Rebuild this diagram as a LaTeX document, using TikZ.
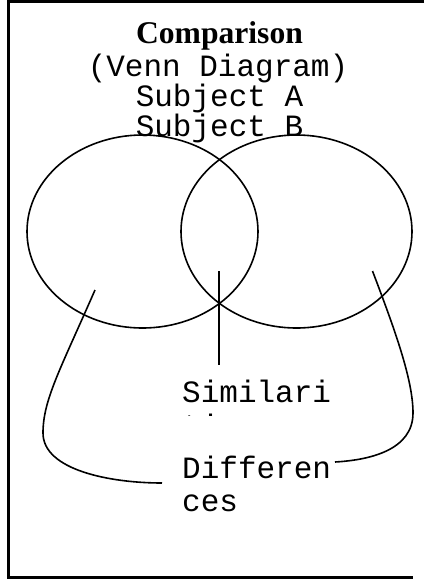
\documentclass[tikz,border=0pt]{standalone}
\usepackage{fontspec}
\setmainfont{Liberation Serif}
\newfontfamily\monofont{Liberation Mono}
\begin{document}
\begin{tikzpicture}[x=1pt,y=-1pt,
  mono/.style={font=\monofont\fontsize{31}{33}\selectfont, inner sep=0pt},
  titlefont/.style={font=\bfseries\fontsize{31.6}{34}\selectfont, inner sep=0pt},
  link/.style={line width=1.6pt},
  venn/.style={line width=1.6pt}]
\useasboundingbox (0,0) rectangle (424,579);
% frame
\draw[line width=3pt] (424,1.5) -- (8,1.5) -- (8,577) -- (413,577);
% titles
\node[titlefont, anchor=base] (title) at (219.5,43) {Comparison};
\node[mono, anchor=base] (sub) at (218,76) {(Venn Diagram)};
\node[mono, anchor=base] (subA) at (219.5,106.5) {Subject A};
\node[mono, anchor=base] (subB) at (219.5,136) {Subject B};
% ellipses
\draw[venn] (142.5,231.5) ellipse [x radius=115.5, y radius=96.5];
\draw[venn] (296.5,231.5) ellipse [x radius=115.5, y radius=96.5];
% labels
\node[mono, anchor=base west] (sim) at (182,402) {Similari};
\begin{scope}
\clip (150,380) rectangle (350,415.5);
\node[mono, anchor=base west] (sim2) at (182,436.5) {ties};
\end{scope}
\node[mono, anchor=base west] (diff) at (182,478) {Differen};
\node[mono, anchor=base west] (diff2) at (182,511) {ces};
% connector endpoints
\coordinate (midA) at (219,271);
\coordinate (midB) at (219,365);
\coordinate (leftA) at (95,290);
\coordinate (leftM) at (43,433);
\coordinate (leftB) at (162,483);
\coordinate (rightA) at (372.5,271);
\coordinate (rightM) at (413,413);
\coordinate (rightB) at (335,462);
% connectors
\draw[link] (midA) -- (midB);
\draw[link] (leftA) .. controls (60,370) and (43,400) .. (leftM)
  .. controls (43,470) and (110,483) .. (leftB);
\draw[link] (rightA) .. controls (395,330) and (413,380) .. (rightM)
  .. controls (413,450) and (370,460) .. (rightB);
\end{tikzpicture}
\end{document}
